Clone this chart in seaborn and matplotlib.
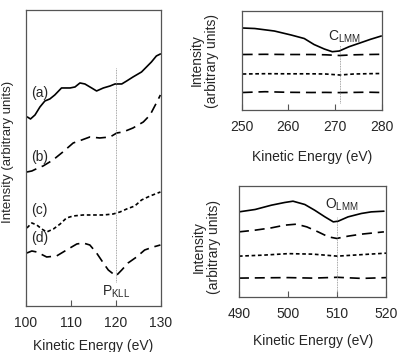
import numpy as np
import pandas as pd
import matplotlib
matplotlib.use('Agg')
import matplotlib.pyplot as plt
import seaborn as sns

# P KLL region (left panel)
p_energy_a = [100.3, 101.0, 102.0, 103.1, 104.2, 105.3, 106.4, 107.9, 109.8, 110.9, 112.0, 113.1,
              114.6, 115.7, 117.2, 118.7, 119.8, 121.3, 122.4, 123.8, 125.7, 126.8, 127.9, 129.0, 129.9]
p_int_a = [189, 187, 191, 199, 205, 207, 211, 218, 218, 219, 223, 222,
           218, 215, 218, 220, 222, 222, 225, 229, 234, 239, 244, 250, 252]
p_energy_b = [100.2, 101.3, 102.7, 103.8, 106.0, 108.2, 110.5, 112.4, 114.2, 116.4, 118.7,
              120.2, 121.6, 123.8, 126.1, 127.6, 129.0, 129.9]
p_int_b = [134, 135, 138, 140, 146, 154, 163, 166, 169, 168, 169,
           173, 174, 178, 184, 191, 203, 211]
p_energy_c = [100.2, 101.3, 102.4, 103.5, 104.6, 106.1, 107.6, 109.0, 110.5, 112.7, 115.0,
              117.2, 119.4, 120.9, 122.4, 124.2, 125.7, 127.6, 129.9]
p_int_c = [78, 83, 81, 77, 74, 77, 82, 88, 90, 91, 91,
           91, 92, 94, 97, 100, 106, 110, 114]
p_energy_d = [100.2, 101.3, 102.4, 104.6, 106.8, 109.4, 111.3, 112.7, 114.2, 115.7, 117.2,
              118.3, 120.0, 121.3, 122.7, 124.6, 126.4, 128.3, 129.9]
p_int_d = [53, 55, 54, 49, 50, 57, 62, 63, 61, 53, 43,
           36, 30, 36, 43, 49, 56, 59, 61]

# C LMM region (top right)
c_energy_a = [250.2, 252.8, 257.0, 260.6, 263.4, 265.5, 267.7, 269.4, 270.9, 273.0, 275.5, 277.6, 279.9]
c_int_a = [82, 81.5, 79, 75, 71.5, 65.5, 61, 58.3, 59, 63.3, 67.3, 70.7, 74]
c_energy_bcd = [250.2, 255, 260, 265, 268, 271, 274, 277, 279.9]
c_int_b = [55.5, 55.7, 55.5, 55.5, 55.2, 54.5, 55.2, 55.5, 55.7]
c_int_c = [36, 36.3, 36.2, 36.2, 36, 35, 36, 36.3, 36.5]
c_int_d = [17.5, 18.3, 17.7, 17.5, 17.6, 17.4, 17.6, 17.8, 17.5]

# O LMM region (bottom right)
o_energy_a = [490.0, 493.3, 496.6, 499.3, 501.0, 503.4, 505.4, 507.5, 509.2, 510.2, 512.2, 514.9, 516.9, 519.5]
o_int_a = [85.3, 87.7, 92, 94.7, 96, 92.7, 87, 80.3, 75.3, 76, 80.3, 83.7, 85.3, 86]
o_energy_b = [490.0, 493.3, 496.6, 499.3, 501.7, 503.8, 506.1, 508.2, 509.9, 512.2, 514.9, 519.5]
o_int_b = [65.3, 67, 69.3, 72, 73, 70.3, 65.3, 60.3, 58.7, 61, 63, 65.3]
o_energy_cd = [490, 495, 500, 505, 510, 515, 520]
o_int_c = [41, 42, 43.5, 43, 41, 42.5, 44]
o_int_d = [19, 19.3, 19.5, 19, 19.8, 18.7, 19.5]

labels = ['(a)', '(b)', '(c)', '(d)']
dash_map = {'(a)': '', '(b)': (6, 3.5), '(c)': (2.2, 1.6), '(d)': (6, 3.5)}


def make_df(pairs):
    rows = []
    for lab, (e, v) in zip(labels, pairs):
        rows.append(pd.DataFrame({'energy': e, 'intensity': v, 'spectrum': lab}))
    return pd.concat(rows, ignore_index=True)


df_p = make_df([(p_energy_a, p_int_a), (p_energy_b, p_int_b), (p_energy_c, p_int_c), (p_energy_d, p_int_d)])
df_c = make_df([(c_energy_a, c_int_a), (c_energy_bcd, c_int_b), (c_energy_bcd, c_int_c), (c_energy_bcd, c_int_d)])
df_o = make_df([(o_energy_a, o_int_a), (o_energy_b, o_int_b), (o_energy_cd, o_int_c), (o_energy_cd, o_int_d)])

sns.set_style('white')
plt.rcParams['font.family'] = ['Liberation Sans', 'DejaVu Sans']
plt.rcParams['font.size'] = 10

fig = plt.figure(figsize=(4.05, 3.52), dpi=100)
ax1 = fig.add_axes([0.0642, 0.1307, 0.333, 0.841])
ax2 = fig.add_axes([0.5968, 0.6875, 0.3457, 0.2812])
ax3 = fig.add_axes([0.590, 0.156, 0.364, 0.315])

spine_col = '#555555'
for ax, df in [(ax1, df_p), (ax2, df_c), (ax3, df_o)]:
    sns.lineplot(data=df, x='energy', y='intensity', hue='spectrum', style='spectrum',
                 palette=['black'] * 4, dashes=dash_map, estimator=None, lw=1.2,
                 legend=False, ax=ax)
    for s in ax.spines.values():
        s.set_color(spine_col)
        s.set_linewidth(0.9)
    ax.set_yticks([])
    ax.tick_params(axis='x', direction='in', length=4, width=0.8, color=spine_col,
                   pad=7, labelsize=10, bottom=True)

# left panel
ax1.set_xlim(100, 130)
ax1.set_ylim(0, 296)
ax1.set_xticks([100, 110, 120, 130])
ax1.plot([120, 120], [24, 238], color='#888888', lw=0.6, ls=(0, (1, 1)))
ax1.text(120, 14, 'P$_{\\mathregular{KLL}}$', ha='center', va='center', fontsize=10)
for lab, (xx, yy) in zip(labels, [(103, 213), (103, 149), (103, 96), (103, 68)]):
    ax1.text(xx, yy, lab, ha='center', va='center', fontsize=10)
ax1.set_xlabel('Kinetic Energy (eV)', fontsize=10)
ax1.xaxis.set_label_coords(0.5, -0.11)
ax1.set_ylabel('Intensity (arbitrary units)', fontsize=9.5)
ax1.yaxis.set_label_coords(-0.09, 0.52)

# top right
ax2.set_xlim(250, 280)
ax2.set_ylim(0, 99)
ax2.set_xticks([250, 260, 270, 280])
ax2.plot([271, 271], [7, 65], color='#888888', lw=0.6, ls=(0, (1, 1)))
ax2.text(272, 73, 'C$_{\\mathregular{LMM}}$', ha='center', va='center', fontsize=10)
ax2.set_xlabel('Kinetic Energy (eV)', fontsize=10)
ax2.xaxis.set_label_coords(0.5, -0.4)
ax2.set_ylabel('Intensity\n(arbitrary units)', fontsize=10, linespacing=1.1)
ax2.yaxis.set_label_coords(-0.165, 0.5)

# bottom right
ax3.set_xlim(490, 520)
ax3.set_ylim(0, 111)
ax3.set_xticks([490, 500, 510, 520])
ax3.plot([510, 510], [3, 80], color='#888888', lw=0.6, ls=(0, (1, 1)))
ax3.text(511, 92, 'O$_{\\mathregular{LMM}}$', ha='center', va='center', fontsize=10)
ax3.set_xlabel('Kinetic Energy (eV)', fontsize=10)
ax3.xaxis.set_label_coords(0.5, -0.33)
ax3.set_ylabel('Intensity\n(arbitrary units)', fontsize=10, linespacing=1.1)
ax3.yaxis.set_label_coords(-0.125, 0.45)

fig.savefig('out.png', dpi=100)
